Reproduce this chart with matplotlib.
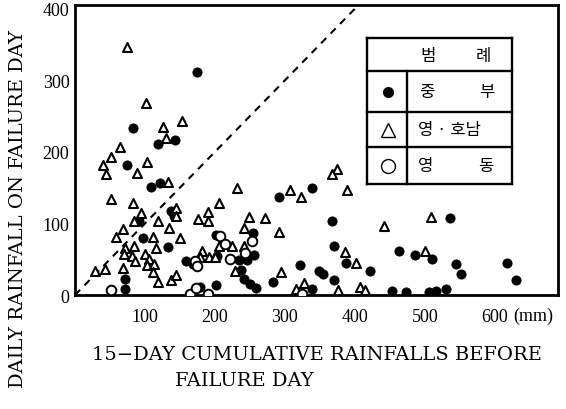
import matplotlib
matplotlib.use("Agg")
import matplotlib.pyplot as plt
from matplotlib.lines import Line2D

# 중부 (filled circles): 15-day cumulative rainfall (mm), rainfall on failure day (mm)
jungbu_x = [174, 83, 119, 143, 74, 109, 122, 137, 142, 92, 97, 133, 71, 71, 201, 255,
            158, 168, 203, 235, 246, 256, 237, 241, 250, 259, 201, 178, 339, 291, 368,
            536, 370, 322, 388, 422, 349, 354, 283, 370, 339, 463, 486, 510, 545, 551,
            618, 630, 453, 473, 506, 516, 530]
jungbu_y = [312, 233, 211, 217, 182, 151, 157, 117, 110, 103, 79, 67, 23, 9, 84, 87,
            47, 43, 54, 49, 49, 56, 35, 23, 16, 10, 14, 11, 150, 137, 103,
            107, 69, 42, 45, 33, 34, 30, 18, 21, 9, 61, 56, 51, 43, 29,
            45, 21, 5, 4, 4, 5, 9]

# 영·호남 (open triangles)
yh_x = [74, 101, 126, 153, 65, 130, 52, 40, 44, 103, 89, 133, 52, 83, 232, 206, 144,
        145, 94, 85, 119, 176, 190, 190, 249, 68, 59, 111, 134, 150, 71, 84, 70, 82,
        86, 100, 116, 106, 103, 113, 29, 43, 68, 111, 118, 137, 241, 206, 224, 241,
        181, 179, 192, 200, 229, 144, 374, 367, 307, 323, 389, 272, 292, 442, 509,
        386, 401, 500, 295, 328, 316, 376, 407, 414]
yh_y = [347, 268, 235, 243, 207, 220, 193, 181, 169, 186, 170, 158, 134, 129, 149, 128,
        122, 111, 114, 103, 103, 106, 116, 104, 109, 92, 81, 81, 93, 80, 66, 69, 58,
        55, 48, 58, 66, 51, 42, 44, 33, 37, 38, 32, 18, 21, 94, 69, 68, 68, 61, 53,
        53, 53, 33, 28, 176, 169, 147, 137, 147, 107, 88, 97, 109, 60, 45, 62, 32,
        17, 8, 7, 11, 7]

# 영동 (open circles)
yd_x = [51, 207, 214, 253, 172, 175, 222, 243, 164, 173, 190, 324]
yd_y = [7, 83, 71, 76, 47, 40, 50, 59, 2, 10, 2, 2]

x_ticks = [100, 200, 300, 400, 500, 600]
y_ticks = [0, 100, 200, 300, 400]

serif = "Liberation Serif"
label_font = "DejaVu Serif"
kr = ["Noto Sans CJK KR", "DejaVu Sans"]

fig = plt.figure(figsize=(5.66, 4.10), dpi=100)
ax = fig.add_axes([0.1325, 0.278, 0.853, 0.707])

# 1:1 line
ax.plot([0, 420], [0, 420], color="black", lw=1.5, dashes=(3.5, 3))

ax.scatter(jungbu_x, jungbu_y, s=44, c="black", edgecolors="black", linewidths=0.6, zorder=3)
ax.scatter(yh_x, yh_y, s=42, marker="^", facecolors="white", edgecolors="black",
           linewidths=1.5, zorder=4)
ax.scatter(yd_x, yd_y, s=48, marker="o", facecolors="white", edgecolors="black",
           linewidths=1.4, zorder=4)

ax.set_xlim(0, 690)
ax.set_ylim(0, 405)
for sp in ax.spines.values():
    sp.set_linewidth(2.0)

ax.set_xticks(x_ticks)
ax.set_xticklabels([str(v) for v in x_ticks], fontfamily=serif, fontsize=13)
ax.set_yticks(y_ticks)
ax.set_yticklabels([str(v) for v in y_ticks], fontfamily=serif, fontsize=13)
ax.tick_params(axis="both", length=0)
ax.tick_params(axis="x", pad=9)
ax.tick_params(axis="y", pad=4)
ax.text(626, -0.07, "(mm)", transform=ax.get_xaxis_transform(), fontfamily=serif,
        fontsize=13, va="center", ha="left")

fig.text(18 / 566, 0.49, "DAILY RAINFALL ON FAILURE DAY", rotation=90, ha="center",
         va="center", fontfamily=label_font, fontsize=14)
fig.text(92 / 566, 1 - 355 / 410, "15\u2212DAY CUMULATIVE RAINFALLS BEFORE", ha="left",
         va="center", fontfamily=label_font, fontsize=14)
fig.text(175 / 566, 1 - 381 / 410, "FAILURE DAY", ha="left", va="center",
         fontfamily=label_font, fontsize=14)


# legend table (범례)
def fx(px):
    return px / 566


def fy(py):
    return 1 - py / 410


L, R, T, B, C = 367, 512, 39, 185, 407
rows = [72, 113, 148]
box = [(L, T, R, T), (R, T, R, B), (R, B, L, B), (L, B, L, T), (C, rows[0], C, B)]
box += [(L, r, R, r) for r in rows]
for x0, y0, x1, y1 in box:
    fig.add_artist(Line2D([fx(x0), fx(x1)], [fy(y0), fy(y1)], color="black", lw=1.7))

fs_kr = 12
fig.text(fx(428), fy(56), "범", family=kr, fontsize=fs_kr, ha="center", va="center")
fig.text(fx(483), fy(56), "례", family=kr, fontsize=fs_kr, ha="center", va="center")

fig.add_artist(Line2D([fx(388)], [fy(93)], marker="o", ms=7, color="black", lw=0))
fig.add_artist(Line2D([fx(388)], [fy(131)], marker="^", ms=10, mfc="white",
                      mec="black", mew=1.0, lw=0))
fig.add_artist(Line2D([fx(388)], [fy(167)], marker="o", ms=10, mfc="white",
                      mec="black", mew=1.0, lw=0))

fig.text(fx(427), fy(93), "중", family=kr, fontsize=fs_kr, ha="center", va="center")
fig.text(fx(487), fy(93), "부", family=kr, fontsize=fs_kr, ha="center", va="center")
fig.text(fx(418), fy(130), "영 · 호남", family=kr, fontsize=fs_kr, ha="left", va="center")
fig.text(fx(426), fy(166), "영", family=kr, fontsize=fs_kr, ha="center", va="center")
fig.text(fx(486), fy(166), "동", family=kr, fontsize=fs_kr, ha="center", va="center")

fig.savefig("out.png", dpi=100)
